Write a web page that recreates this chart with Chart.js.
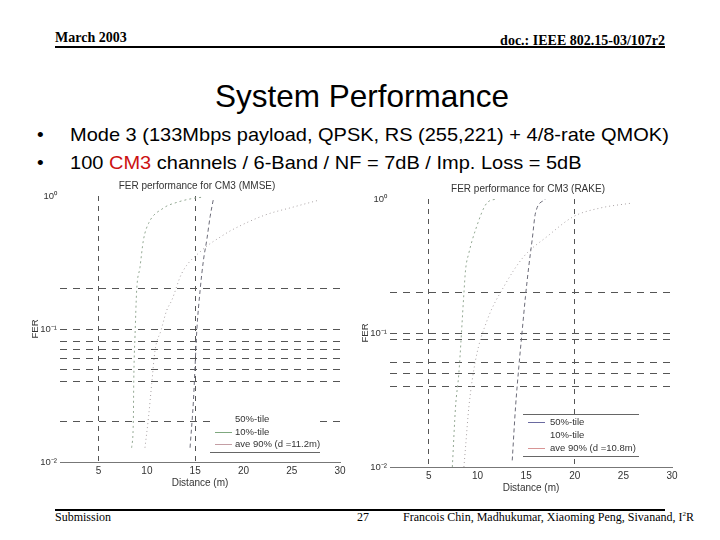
<!DOCTYPE html>
<html><head><meta charset="utf-8">
<script src="https://cdn.jsdelivr.net/npm/chart.js@4.4.0/dist/chart.umd.min.js"></script>
<style>
html,body{margin:0;padding:0;background:#fff}
body{width:720px;height:540px;position:relative;overflow:hidden;font-family:"Liberation Sans",Arial,sans-serif;color:#000}
.abs{position:absolute;white-space:nowrap;line-height:1}
.serif{font-family:"Liberation Serif","Times New Roman",serif}
.rule{position:absolute;background:#000}
.panel{position:absolute}
.bul{font-size:19px;transform:scaleX(1.053);transform-origin:0 0}
</style></head><body>
<div class="abs serif" style="left:55px;top:31px;font-size:14px;font-weight:bold">March 2003</div>
<div class="abs serif" style="right:55px;top:34px;font-size:14px;font-weight:bold">doc.: IEEE 802.15-03/107r2</div>
<div class="rule" style="left:55px;top:46px;width:610px;height:2px"></div>
<div class="abs" style="left:0;width:724px;text-align:center;top:81px;font-size:31.5px">System Performance</div>
<div class="abs" style="left:37px;top:125px;font-size:19px">•</div>
<div class="abs bul" style="left:70px;top:125px">Mode 3 (133Mbps payload, QPSK, RS (255,221) + 4/8-rate QMOK)</div>
<div class="abs" style="left:37px;top:153px;font-size:19px">•</div>
<div class="abs bul" style="left:70px;top:153px">100 <span style="color:#cc1111">CM3</span> channels / 6-Band / NF = 7dB / Imp. Loss = 5dB</div>
<div class="panel" style="left:28px;top:178px;width:322px;height:318px"><canvas id="mmse"></canvas></div>
<div class="panel" style="left:358px;top:181px;width:324px;height:320px"><canvas id="rake"></canvas></div>
<div class="rule" style="left:55px;top:509px;width:610px;height:2px"></div>
<div class="abs serif" style="left:55px;top:511px;font-size:12px">Submission</div>
<div class="abs serif" style="left:357px;top:511px;font-size:12px">27</div>
<div class="abs serif" style="left:403px;top:511px;font-size:12px">Francois Chin, Madhukumar, Xiaoming Peng, Sivanand, I<sup style="font-size:7px">2</sup>R</div>
<script>
// ---- data ----
const xTicks = [5, 10, 15, 20, 25, 30];
const yTickLabels = { '1': '10⁰', '0.1': '10⁻¹', '0.01': '10⁻²' };
const seriesLabels = ['50%-tile', '10%-tile'];

// MMSE panel
const mmseAveLabel = 'ave 90% (d =11.2m)';
const mmseGridY = [0.02, 0.04, 0.05, 0.06, 0.07, 0.08, 0.1, 0.2];
const mmseGridX = [5, 15];
const mmseDist50 = [14.47, 14.82, 15.17, 15.51, 15.86, 16.2, 16.55, 16.9];
const mmseFer50  = [0.0128, 0.029, 0.0975, 0.195, 0.33, 0.466, 0.70, 0.96];
const mmseDist10 = [8.42, 8.6, 8.63, 8.68, 8.77, 8.94, 9.28, 9.64, 10.16, 11.7, 13.2, 14.8, 15.8];
const mmseFer10  = [0.0128, 0.021, 0.0356, 0.058, 0.089, 0.195, 0.29, 0.466, 0.62, 0.81, 0.9, 0.96, 0.98];
const mmseDistAve = [9.8, 10.16, 10.5, 10.84, 11.46, 12.05, 12.57, 13.61, 15.68, 17.76, 18.8, 22.25, 25.0, 27.8];
const mmseFerAve  = [0.0128, 0.0215, 0.0388, 0.0689, 0.0975, 0.138, 0.164, 0.262, 0.39, 0.5, 0.555, 0.72, 0.82, 0.93];

// RAKE panel
const rakeAveLabel = 'ave 90% (d =10.8m)';
const rakeGridY = [0.04, 0.05, 0.06, 0.09, 0.1, 0.2];
const rakeGridX = [5, 20];
const rakeDist50 = [13.57, 13.91, 14.25, 14.6, 14.93, 15.27, 15.62, 15.96, 16.99];
const rakeFer50  = [0.0112, 0.028, 0.056, 0.105, 0.187, 0.313, 0.496, 0.786, 1.0];
const rakeDist10 = [7.41, 7.74, 8.08, 8.6, 8.77, 9.11, 9.8, 11.0, 12.03];
const rakeFer10  = [0.01, 0.0281, 0.05, 0.198, 0.296, 0.395, 0.59, 0.94, 1.0];
const rakeDistAve = [8.6, 8.77, 9.11, 9.8, 11.0, 12.71, 14.76, 17.16, 19.9, 22.64, 25.9];
const rakeFerAve  = [0.01, 0.0141, 0.028, 0.0628, 0.125, 0.222, 0.372, 0.525, 0.741, 0.857, 0.933];

// ---- helpers ----
Chart.defaults.font.family = '"Liberation Sans", Arial, sans-serif';
Chart.defaults.color = '#333';

const pts = (xs, ys) => xs.map((x, i) => ({ x: x, y: ys[i] }));

const panelTitle = {
  id: 'panelTitle',
  afterDraw(chart, args, opts) {
    const { ctx, chartArea } = chart;
    ctx.save();
    ctx.font = '10px "Liberation Sans", Arial, sans-serif';
    ctx.fillStyle = '#333';
    ctx.textAlign = 'center';
    ctx.textBaseline = 'middle';
    ctx.fillText(opts.text, (chartArea.left + chartArea.right) / 2 + opts.dx, chartArea.top + opts.dy);
    ctx.restore();
  }
};

const boxLegend = {
  id: 'boxLegend',
  afterDraw(chart, args, opts) {
    const { ctx, chartArea } = chart;
    const L = chartArea.left, B = chartArea.bottom;
    ctx.save();
    const x0 = L + opts.left, x1 = L + opts.right;
    ctx.fillStyle = '#fff';
    ctx.fillRect(x0, B + opts.boxTop, x1 - x0, opts.bottom - opts.boxTop);
    ctx.strokeStyle = '#666';
    ctx.lineWidth = 1;
    if (opts.drawTop) {
      ctx.beginPath(); ctx.moveTo(x0, B + opts.boxTop + 0.5); ctx.lineTo(x1, B + opts.boxTop + 0.5); ctx.stroke();
    }
    ctx.beginPath(); ctx.moveTo(x0, B + opts.bottom + 0.5); ctx.lineTo(x1, B + opts.bottom + 0.5); ctx.stroke();
    ctx.font = '9.5px "Liberation Sans", Arial, sans-serif';
    ctx.textBaseline = 'middle';
    ctx.fillStyle = '#333';
    chart.data.datasets.forEach((ds, i) => {
      const y = B + opts.rows[i];
      ctx.strokeStyle = opts.colors[i];
      ctx.beginPath(); ctx.moveTo(L + opts.sample[0], y + 0.5); ctx.lineTo(L + opts.sample[1], y + 0.5); ctx.stroke();
      ctx.fillText(ds.label, L + opts.textX, y);
    });
    ctx.restore();
  }
};

function makeChart(id, title, series, gridY, gridX, legendOpts) {
  return new Chart(document.getElementById(id), {
    type: 'line',
    data: {
      datasets: [
        { label: seriesLabels[0], data: pts(series[0][0], series[0][1]), borderColor: '#6b6b78', borderDash: [4, 3], borderWidth: 1, pointRadius: 0, cubicInterpolationMode: 'monotone' },
        { label: seriesLabels[1], data: pts(series[1][0], series[1][1]), borderColor: '#93a893', borderDash: [2, 3], borderWidth: 1, pointRadius: 0, cubicInterpolationMode: 'monotone' },
        { label: series[2][2], data: pts(series[2][0], series[2][1]), borderColor: '#a9a2a4', borderDash: [1, 3], borderWidth: 1, pointRadius: 0, cubicInterpolationMode: 'monotone' }
      ]
    },
    options: {
      responsive: true,
      maintainAspectRatio: false,
      animation: false,
      events: [],
      layout: { padding: { top: 18, right: 10, left: 0, bottom: 0 } },
      plugins: {
        legend: { display: false },
        tooltip: { enabled: false },
        title: { display: false },
        panelTitle: { text: title, dx: -3, dy: -10 },
        boxLegend: legendOpts
      },
      scales: {
        x: {
          type: 'linear', min: 1, max: 30,
          afterBuildTicks: s => { s.ticks = xTicks.map(v => ({ value: v })); },
          afterFit: s => { s.height = 34; },
          ticks: { autoSkip: false, maxRotation: 0, padding: 3, font: { size: 10 }, color: '#333' },
          grid: { drawTicks: false, color: c => (c.tick && gridX.includes(c.tick.value)) ? '#555' : 'rgba(0,0,0,0)', lineWidth: 1 },
          border: { display: true, color: '#777', dash: [5, 5] },
          title: { display: true, text: 'Distance (m)', font: { size: 10 }, color: '#333', padding: { top: 0, bottom: 7 } }
        },
        y: {
          type: 'logarithmic', min: 0.01, max: 1,
          afterBuildTicks: s => { s.ticks = [0.01].concat(gridY, [1]).map(v => ({ value: v })); },
          afterFit: s => { s.width = 32; },
          ticks: { autoSkip: false, padding: 3, font: { size: 9.5 }, color: '#333', callback: v => yTickLabels[String(v)] || '' },
          grid: { drawTicks: false, color: c => (c.tick && gridY.includes(c.tick.value)) ? '#555' : 'rgba(0,0,0,0)', lineWidth: 1 },
          border: { display: false, dash: [7, 6] },
          title: { display: true, text: 'FER', font: { size: 9.5 }, color: '#333', padding: { top: 2, bottom: 0 } }
        }
      }
    },
    plugins: [panelTitle, boxLegend]
  });
}

makeChart('mmse', 'FER performance for CM3 (MMSE)',
  [[mmseDist50, mmseFer50], [mmseDist10, mmseFer10], [mmseDistAve, mmseFerAve, mmseAveLabel]],
  mmseGridY, mmseGridX,
  { left: 150, right: 260, boxTop: -50, drawTop: false, bottom: -10, rows: [-43, -30, -18], sample: [155, 172], textX: 175, colors: ['rgba(0,0,0,0)', '#7fa87f', '#c49ea4'] });

makeChart('rake', 'FER performance for CM3 (RAKE)',
  [[rakeDist50, rakeFer50], [rakeDist10, rakeFer10], [rakeDistAve, rakeFerAve, rakeAveLabel]],
  rakeGridY, rakeGridX,
  { left: 133, right: 249, boxTop: -53, drawTop: true, bottom: -11, rows: [-45, -32, -19], sample: [138, 155], textX: 160, colors: ['#6a6aa0', 'rgba(0,0,0,0)', '#d89595'] });
</script>
</body></html>
